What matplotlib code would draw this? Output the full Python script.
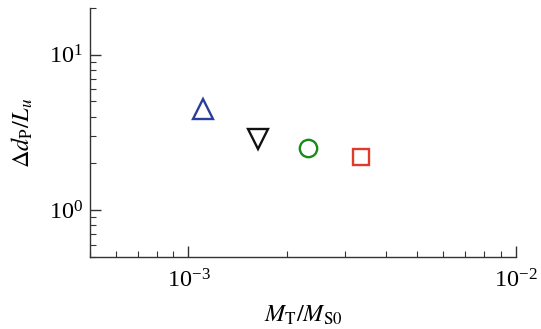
import matplotlib
matplotlib.use("Agg")
import matplotlib.pyplot as plt
from matplotlib.ticker import LogLocator, NullFormatter

plt.rcParams['font.family'] = ['Liberation Serif', 'DejaVu Serif']
plt.rcParams['mathtext.fontset'] = 'stix'

# data
mass_ratio = [1.11e-3, 1.635e-3, 2.31e-3, 3.37e-3]
delta_dp = [4.45, 2.87, 2.50, 2.19]
markers = ['^', 'v', 'o', 's']
colors = ['#2a3f9d', '#111111', '#1a8a1a', '#e03a2a']
sizes = [15, 14, 12.5, 11]

fig = plt.figure(figsize=(5.41, 3.29), dpi=100)
ax = fig.add_axes([0.166, 0.219, 0.788, 0.757])

for x, y, m, c, s in zip(mass_ratio, delta_dp, markers, colors, sizes):
    ax.plot([x], [y], marker=m, markersize=s, markerfacecolor='none',
            markeredgecolor=c, markeredgewidth=1.7, linestyle='none')

ax.set_xscale('log')
ax.set_yscale('log')
ax.set_xlim(5e-4, 1e-2)
ax.set_ylim(0.5, 20)

for side in ['top', 'right']:
    ax.spines[side].set_visible(False)
for side in ['left', 'bottom']:
    ax.spines[side].set_linewidth(1.0)
    ax.spines[side].set_color('#333333')

ax.xaxis.set_minor_locator(LogLocator(base=10, subs=range(2, 10)))
ax.yaxis.set_minor_locator(LogLocator(base=10, subs=range(2, 10)))
ax.xaxis.set_minor_formatter(NullFormatter())
ax.yaxis.set_minor_formatter(NullFormatter())
ax.tick_params(which='major', direction='in', length=8, width=1.0, labelsize=17.5, color='#333333')
ax.tick_params(which='minor', direction='in', length=4, width=0.8, color='#333333')
ax.tick_params(axis='x', pad=9)
ax.tick_params(axis='y', pad=5)

ax.set_xlabel(r'$M_{\mathrm{T}}/M_{\mathrm{S0}}$', fontsize=17.5, labelpad=8)
ax.set_ylabel(r'$\Delta d_{\mathrm{P}}/L_u$', fontsize=17.5, labelpad=10)

fig.savefig('out.png', dpi=100)
